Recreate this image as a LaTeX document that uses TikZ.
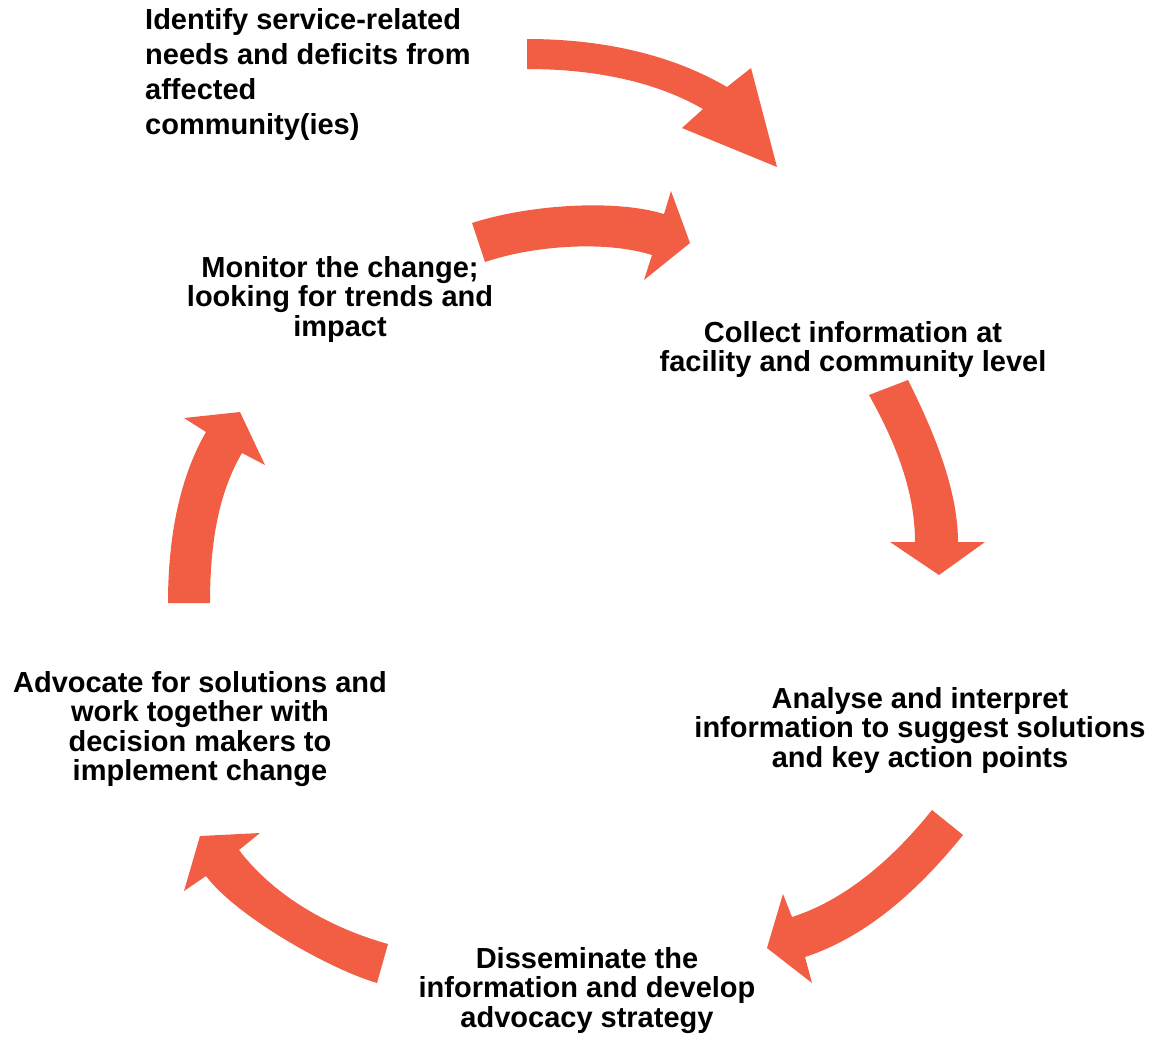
\documentclass[tikz,border=0pt]{standalone}
\usepackage{fontspec}
\setmainfont{Liberation Sans}
\definecolor{cyclered}{RGB}{241,94,67}
\begin{document}
\begin{tikzpicture}[x=1pt,y=-1pt,
  blockarrow/.style={fill=cyclered,draw=none},
  steptext/.style={inner sep=0pt,align=center,anchor=north,
    font=\bfseries\fontsize{29}{29.5}\selectfont},
  starttext/.style={inner sep=0pt,align=left,anchor=north west,
    font=\bfseries\fontsize{29}{35}\selectfont}]
\useasboundingbox (0,0) rectangle (1153,1037);

% curved block arrows of the cycle
\fill[blockarrow] (527,39) .. controls (596,39) and (667,52) .. (727,87)
  -- (751,68) -- (777,167) -- (682,128) -- (703,109)
  .. controls (651,79) and (587,69) .. (527,69) -- cycle;
\fill[blockarrow] (472,223) .. controls (524,206) and (611,198) .. (664,214)
  -- (671,191) -- (690,243) -- (644,280) -- (652,255)
  .. controls (604,240) and (532,246) .. (485,262) -- cycle;
\fill[blockarrow] (869,395) .. controls (893,438) and (915,488) .. (915,542)
  -- (890,542) -- (939,575) -- (985,542) -- (958,542)
  .. controls (958,488) and (932,428) .. (908,380) -- cycle;
\fill[blockarrow] (932,810) .. controls (895,856) and (848,899) .. (792,917)
  -- (783,894) -- (767,948) -- (812,983) -- (805,957)
  .. controls (869,936) and (921,887) .. (963,835) -- cycle;
\fill[blockarrow] (388,944) .. controls (331,928) and (275,897) .. (239,850)
  -- (260,833) -- (200,836) -- (184,891) -- (206,876)
  .. controls (236,916) and (329,969) .. (377,983) -- cycle;
\fill[blockarrow] (168,603) .. controls (168,545) and (177,482) .. (206,432)
  -- (184,418) -- (240,412) -- (265,465) -- (242,453)
  .. controls (216,497) and (210,552) .. (210,603) -- cycle;

% step labels
\node[starttext] (identify) at (145,8)
  {Identify service-related\\needs and deficits from\\affected\\community(ies)};
\node[steptext] (monitor) at (340,256)
  {Monitor the change;\\looking for trends and\\impact};
\node[steptext] (collect) at (853,321)
  {Collect information at\\facility and community level};
\node[steptext] (analyse) at (920,687)
  {Analyse and interpret\\information to suggest solutions\\and key action points};
\node[steptext] (disseminate) at (587,947)
  {Disseminate the\\information and develop\\advocacy strategy};
\node[steptext] (advocate) at (200,671)
  {Advocate for solutions and\\work together with\\decision makers to\\implement change};
\end{tikzpicture}
\end{document}
